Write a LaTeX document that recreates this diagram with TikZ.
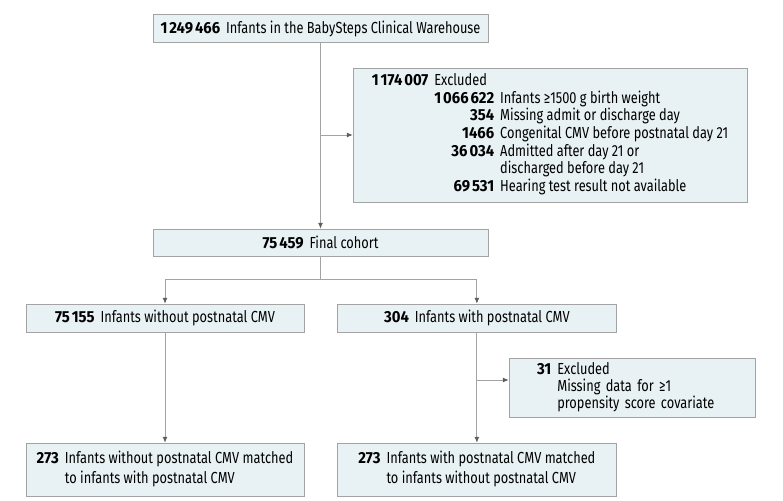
\documentclass[tikz,border=0pt]{standalone}
\usepackage{fontspec}
\setmainfont{Fira Sans}[FakeStretch=0.8, BoldFeatures={FakeStretch=0.93}]
\usepackage{tikz}
\usetikzlibrary{positioning, arrows.meta}
\definecolor{boxFill}{HTML}{E8F1F4}
\definecolor{boxLine}{HTML}{A3A3A3}
\definecolor{tipGray}{HTML}{5E5E5E}
\newcommand{\nb}[1]{\textbf{#1}\hspace{6pt}}
\newcommand{\nn}[1]{\textbf{#1}}
\newcommand{\tsp}{\kern0.12em}

\begin{document}
\begin{tikzpicture}[x=1pt, y=-1pt, node distance=33pt,
    box/.style={draw=boxLine, fill=boxFill, font=\fontsize{16}{17.5}\selectfont,
      inner sep=0pt, minimum height=28pt},
    arr/.style={-{Latex[length=6pt, width=5pt, color=tipGray]}, boxLine, line width=1pt}]
  \useasboundingbox (0,0) rectangle (783,500);
  \node[box, minimum width=335pt] (all) at (320.5,28.5)
    {\nb{1\tsp249\tsp466}Infants in the BabySteps Clinical Warehouse};
  \node[box, minimum width=394pt, minimum height=134pt] (ex1) at (550,135)
    {\begin{tabular}{@{}r@{\hspace{6pt}}r@{\hspace{6pt}}l@{}}
      \nn{1\tsp174\tsp007} & \multicolumn{2}{@{}l@{}}{Excluded}\\
      & \nn{1\tsp066\tsp622} & Infants ≥1500 g birth weight\\
      & \nn{354} & Missing admit or discharge day\\
      & \nn{1466} & Congenital CMV before postnatal day 21\\
      & \nn{36\tsp034} & Admitted after day 21 or\\
      & & discharged before day 21\\
      & \nn{69\tsp531} & Hearing test result not available
    \end{tabular}};
  \node[box, minimum width=335pt, minimum height=27pt] (coh) at (320.5,242.5)
    {\nb{75\tsp459}Final cohort};
  \node[box, minimum width=278pt] (neg) at (165,318)
    {\nb{75\tsp155}Infants without postnatal CMV};
  \node[box, minimum width=279pt, right=of neg] (pos)
    {\nb{304}Infants with postnatal CMV};
  \node[box, minimum width=246pt, minimum height=59pt, text width=190pt,
    inner xsep=28pt, align=left, font=\fontsize{16}{15.5}\selectfont] (ex2) at (632,387.5)
    {\begin{tabular}{@{}r@{\hspace{6pt}}l@{}}
      \nn{31} & Excluded\\
      & Missing data for ≥1\\
      & propensity score covariate
    \end{tabular}};
  \node[box, minimum width=278pt, minimum height=53pt,
    font=\fontsize{16}{20}\selectfont] (mneg) at (165,469.5)
    {\begin{tabular}{@{}r@{\hspace{6pt}}l@{}}
      \nn{273} & Infants without postnatal CMV matched\\
      & to infants with postnatal CMV
    \end{tabular}};
  \node[box, minimum width=279pt, minimum height=53pt,
    font=\fontsize{16}{20}\selectfont] (mpos) at (pos |- mneg)
    {\begin{tabular}{@{}r@{\hspace{6pt}}l@{}}
      \nn{273} & Infants with postnatal CMV matched\\
      & to infants without postnatal CMV
    \end{tabular}};
  \coordinate (br) at ([yshift=7.5pt]ex2.west);
  \draw[arr] (all) -- (coh);
  \draw[arr] (all.south |- ex1.west) -- (ex1.west);
  \draw[arr] (coh.south) -- ++(0,23) -| (neg.north);
  \draw[arr] (coh.south) -- ++(0,23) -| (pos.north);
  \draw[arr] (neg) -- (mneg);
  \draw[arr] (pos) -- (mpos);
  \draw[arr] (pos.south |- br) -- (br);
\end{tikzpicture}
\end{document}
